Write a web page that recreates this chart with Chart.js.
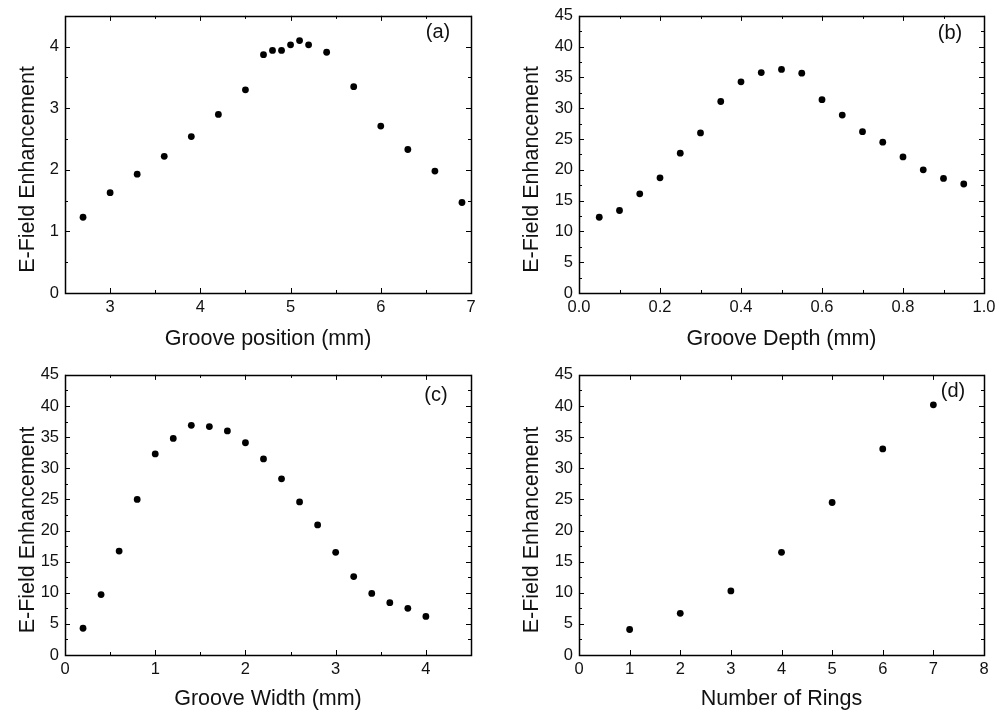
<!DOCTYPE html>
<html>
<head>
<meta charset="utf-8">
<script src="https://cdn.jsdelivr.net/npm/chart.js@4.4.1/dist/chart.umd.min.js"></script>
<style>
  body { margin: 0; background: #fff; }
  #wrap { position: relative; width: 1002px; height: 718px; }
  canvas { position: absolute; }
</style>
</head>
<body>
<div id="wrap">
  <canvas id="chartA" width="501" height="359" style="left:0;top:0"></canvas>
  <canvas id="chartB" width="501" height="359" style="left:501px;top:0"></canvas>
  <canvas id="chartC" width="501" height="359" style="left:0;top:359px"></canvas>
  <canvas id="chartD" width="501" height="359" style="left:501px;top:359px"></canvas>
</div>
<script>
// (a) groove position
const positionX = [2.7, 3.0, 3.3, 3.6, 3.9, 4.2, 4.5, 4.7, 4.8, 4.9, 5.0, 5.1, 5.2, 5.4, 5.7, 6.0, 6.3, 6.6, 6.9];
const positionE = [1.23, 1.63, 1.93, 2.22, 2.54, 2.90, 3.30, 3.87, 3.94, 3.94, 4.03, 4.10, 4.03, 3.91, 3.35, 2.71, 2.33, 1.98, 1.47];

// (b) groove depth
const depthX = [0.05, 0.10, 0.15, 0.20, 0.25, 0.30, 0.35, 0.40, 0.45, 0.50, 0.55, 0.60, 0.65, 0.70, 0.75, 0.80, 0.85, 0.90, 0.95];
const depthE = [12.3, 13.4, 16.1, 18.7, 22.7, 26.0, 31.1, 34.3, 35.8, 36.3, 35.7, 31.4, 28.9, 26.2, 24.5, 22.1, 20.0, 18.6, 17.7];

// (c) groove width
const widthX = [0.2, 0.4, 0.6, 0.8, 1.0, 1.2, 1.4, 1.6, 1.8, 2.0, 2.2, 2.4, 2.6, 2.8, 3.0, 3.2, 3.4, 3.6, 3.8, 4.0];
const widthE = [4.3, 9.7, 16.7, 25.0, 32.3, 34.8, 36.9, 36.7, 36.0, 34.1, 31.5, 28.3, 24.6, 20.9, 16.5, 12.6, 9.9, 8.4, 7.5, 6.2];

// (d) number of rings
const ringsX = [1, 2, 3, 4, 5, 6, 7];
const ringsE = [4.1, 6.7, 10.3, 16.5, 24.5, 33.1, 40.2];

const yTitle = 'E-Field Enhancement';
const FONT = "'Liberation Sans', Arial, sans-serif";

Chart.defaults.font.family = FONT;
Chart.defaults.color = '#111';

// box frame + inward major/minor ticks on all four sides, y title, panel letter
const frameTicks = {
  id: 'frameTicks',
  afterDatasetsDraw(chart, args, opts) {
    const { ctx, chartArea: { left, right, top, bottom }, scales: { x, y } } = chart;
    ctx.save();
    ctx.strokeStyle = '#000';
    ctx.lineWidth = 1;

    const eachStep = (scale, step, fn) => {
      if (!step) return;
      const k0 = Math.ceil(scale.min / step - 1e-9);
      const k1 = Math.floor(scale.max / step + 1e-9);
      for (let k = k0; k <= k1; k++) fn(Math.round(scale.getPixelForValue(k * step)) + 0.5);
    };
    ctx.beginPath();
    const xt = (len) => (p) => {
      ctx.moveTo(p, bottom); ctx.lineTo(p, bottom - len);
      ctx.moveTo(p, top); ctx.lineTo(p, top + len);
    };
    const yt = (len) => (p) => {
      ctx.moveTo(left, p); ctx.lineTo(left + len, p);
      ctx.moveTo(right, p); ctx.lineTo(right - len, p);
    };
    eachStep(x, opts.xMinor, xt(3));
    eachStep(x, opts.xMajor, xt(5));
    eachStep(y, opts.yMinor, yt(3));
    eachStep(y, opts.yMajor, yt(5));
    ctx.stroke();

    ctx.lineWidth = 1.5;
    ctx.strokeRect(Math.round(left) + 0.5, Math.round(top) + 0.5,
      Math.round(right - left), Math.round(bottom - top));

    ctx.fillStyle = '#111';
    ctx.textAlign = 'center';
    ctx.textBaseline = 'middle';
    ctx.font = '20px ' + FONT;
    ctx.fillText(opts.label, right - opts.labelDx, top + opts.labelDy);

    // y-axis title, sits a little below the plot centre as in the original
    ctx.font = '21.5px ' + FONT;
    ctx.translate(left - opts.yTitleDx, (top + bottom) / 2 + 15);
    ctx.rotate(-Math.PI / 2);
    ctx.fillText(yTitle, 0, 0);
    ctx.restore();
  }
};

function makePanel(id, xs, ys, p) {
  const pts = xs.map((v, i) => ({ x: v, y: ys[i] }));
  return new Chart(document.getElementById(id), {
    type: 'scatter',
    data: {
      datasets: [{
        data: pts,
        backgroundColor: '#000',
        borderColor: '#000',
        pointRadius: 3.4,
        pointHoverRadius: 3.4,
        borderWidth: 0
      }]
    },
    options: {
      responsive: false,
      animation: false,
      devicePixelRatio: 1,
      layout: { padding: { left: 0, top: p.padTop, right: p.padRight, bottom: 0 } },
      plugins: {
        legend: { display: false },
        tooltip: { enabled: false },
        frameTicks: {
          xMajor: p.xStep, xMinor: p.xMinor,
          yMajor: p.yStep, yMinor: p.yMinor,
          label: p.label, labelDx: p.labelDx, labelDy: p.labelDy,
          yTitleDx: p.yTitleDx
        }
      },
      scales: {
        x: {
          type: 'linear',
          min: p.xMin, max: p.xMax,
          grid: { display: false, drawTicks: false },
          border: { display: false },
          ticks: {
            stepSize: p.xStep,
            includeBounds: false,
            padding: 5,
            color: '#111',
            font: { size: 16.5 },
            maxRotation: 0,
            autoSkip: false,
            callback: (v) => v.toFixed(p.xDec)
          },
          title: {
            display: true,
            text: p.xTitle,
            color: '#111',
            font: { size: 21.5 },
            padding: p.xTitlePad
          },
          afterFit: (s) => { s.height = p.xAxisH; }
        },
        y: {
          type: 'linear',
          min: p.yMin, max: p.yMax,
          grid: { display: false, drawTicks: false },
          border: { display: false },
          ticks: {
            stepSize: p.yStep,
            includeBounds: false,
            padding: 6,
            color: '#111',
            font: { size: 16.5 },
            autoSkip: false,
            callback: (v) => v.toFixed(0)
          },
          title: { display: false },
          afterFit: (s) => { s.width = p.yAxisW; }
        }
      }
    },
    plugins: [frameTicks]
  });
}

makePanel('chartA', positionX, positionE, {
  xMin: 2.5, xMax: 7, xStep: 1, xMinor: 0.5, xDec: 0,
  yMin: 0, yMax: 4.5, yStep: 1, yMinor: 0.5,
  xTitle: 'Groove position (mm)', label: '(a)', labelDx: 33, labelDy: 17,
  padTop: 7, padRight: 30, xAxisH: 66, yAxisW: 65, xTitlePad: 7, yTitleDx: 37
});

makePanel('chartB', depthX, depthE, {
  xMin: 0, xMax: 1, xStep: 0.2, xMinor: 0.1, xDec: 1,
  yMin: 0, yMax: 45, yStep: 5, yMinor: 2.5,
  xTitle: 'Groove Depth (mm)', label: '(b)', labelDx: 34, labelDy: 18,
  padTop: 7, padRight: 18, xAxisH: 66, yAxisW: 78, xTitlePad: 7, yTitleDx: 47
});

makePanel('chartC', widthX, widthE, {
  xMin: 0, xMax: 4.5, xStep: 1, xMinor: 0.5, xDec: 0,
  yMin: 0, yMax: 45, yStep: 5, yMinor: 2.5,
  xTitle: 'Groove Width (mm)', label: '(c)', labelDx: 35, labelDy: 21,
  padTop: 10, padRight: 30, xAxisH: 63, yAxisW: 65, xTitlePad: 6, yTitleDx: 37
});

makePanel('chartD', ringsX, ringsE, {
  xMin: 0, xMax: 8, xStep: 1, xMinor: null, xDec: 0,
  yMin: 0, yMax: 45, yStep: 5, yMinor: 2.5,
  xTitle: 'Number of Rings', label: '(d)', labelDx: 31, labelDy: 17,
  padTop: 10, padRight: 18, xAxisH: 63, yAxisW: 78, xTitlePad: 6, yTitleDx: 47
});
</script>
</body>
</html>
